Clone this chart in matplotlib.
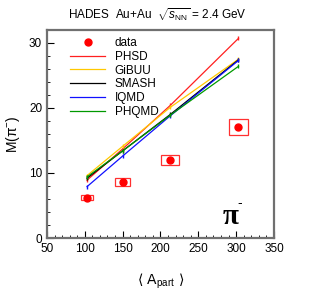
import matplotlib
matplotlib.use('Agg')
import matplotlib.pyplot as plt
from matplotlib.patches import Rectangle
from matplotlib.lines import Line2D
from matplotlib.ticker import MultipleLocator

plt.rcParams['font.family'] = ['Liberation Sans', 'DejaVu Sans']
plt.rcParams['mathtext.fontset'] = 'custom'
plt.rcParams['mathtext.rm'] = 'Liberation Sans'
plt.rcParams['mathtext.it'] = 'Liberation Sans:italic'
plt.rcParams['mathtext.bf'] = 'Liberation Sans:bold'

# 数据
apart = [103, 150, 213, 303]
data_m = [6.2, 8.6, 12.0, 17.1]
data_dx = [8, 10, 12, 12]
data_dy = [0.42, 0.55, 0.8, 1.2]

model_x = [103, 150, 213, 303]
phsd = [8.9, 13.7, 20.4, 30.7]
gibuu = [9.6, 14.1, 20.1, 27.5]
smash = [9.2, 13.4, 19.0, 27.4]
iqmd = [7.9, 12.6, 18.8, 27.3]
phqmd = [9.4, 13.4, 18.9, 26.4]

fig = plt.figure(figsize=(3.15, 2.99), dpi=100)
ax = fig.add_axes([0.149, 0.204, 0.721, 0.696])

ax.plot(apart, data_m, 'o', color='red', markersize=5, linestyle='none', zorder=5)
for x, y, dx, dy in zip(apart, data_m, data_dx, data_dy):
    ax.add_patch(Rectangle((x - dx, y - dy), 2 * dx, 2 * dy, fill=False, edgecolor='#ff3030', linewidth=0.9, zorder=4))

models = [('PHSD', phsd, '#ff2020'), ('GiBUU', gibuu, '#ffc800'), ('SMASH', smash, 'black'),
          ('IQMD', iqmd, '#1010ff'), ('PHQMD', phqmd, '#009900')]
handles = [Line2D([], [], marker='o', color='red', markersize=5, linestyle='none')]
labels = ['data']
for name, vals, c in models:
    ax.plot(model_x, vals, '-', color=c, linewidth=0.9, marker='|', markersize=3)
    handles.append(Line2D([], [], color=c, linewidth=0.9))
    labels.append(name)

ax.set_xlim(50, 350)
ax.set_ylim(0, 32)
ax.xaxis.set_major_locator(MultipleLocator(50))
ax.xaxis.set_minor_locator(MultipleLocator(10))
ax.yaxis.set_major_locator(MultipleLocator(10))
ax.yaxis.set_minor_locator(MultipleLocator(2))
ax.tick_params(which='both', direction='in', labelsize=8.5)
ax.tick_params(which='major', length=5)
ax.tick_params(which='minor', length=2.5)
for s in ax.spines.values():
    s.set_color('#707070')
    s.set_linewidth(1.6)

ax.text(292, 3.3, '\u03c0', fontsize=21, ha='center', va='center', family='Liberation Serif', fontweight='bold')
ax.text(304, 5.4, '-', fontsize=10, ha='center', va='center')

ax.set_xlabel('\u27e8 A$_{\\mathrm{part}}$ \u27e9', fontsize=10, labelpad=12, family=['DejaVu Sans'])
ax.set_ylabel('M(\u03c0$^{-}$)', fontsize=10, labelpad=5)
fig.text(0.5, 0.95, r'HADES  Au+Au  $\sqrt{s_{\mathrm{NN}}}$ = 2.4 GeV', ha='center', va='center', fontsize=8.5)

ax.legend(handles, labels, loc='upper left', frameon=False, fontsize=8.5, handlelength=3.0, labelspacing=0.15,
          borderaxespad=0.2, bbox_to_anchor=(0.07, 1.0), handletextpad=0.8)

fig.savefig('out.png', dpi=100)
